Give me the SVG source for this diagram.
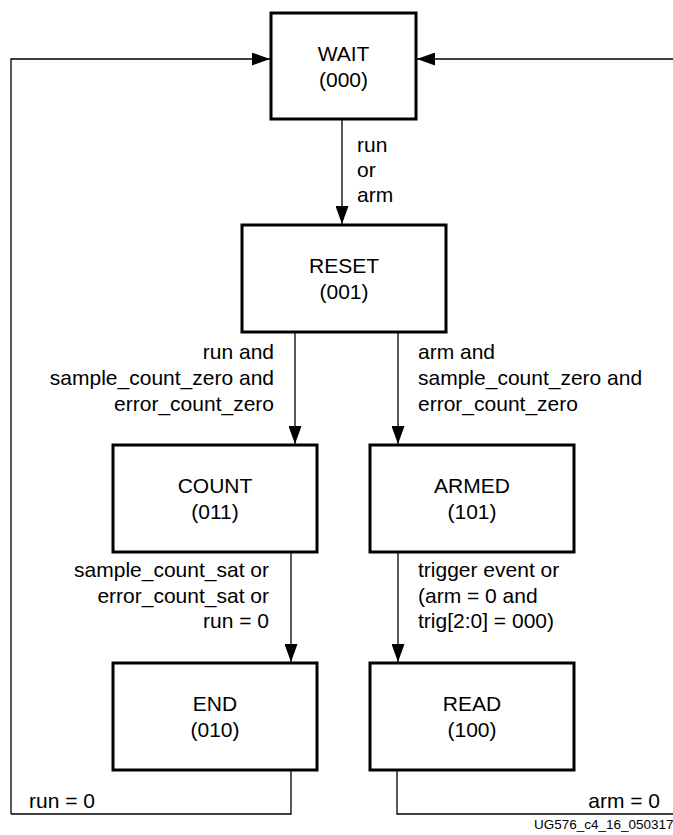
<svg xmlns="http://www.w3.org/2000/svg" width="673" height="835" viewBox="0 0 673 835">
<style>
.box{fill:#fff;stroke:#000;stroke-width:3}
.t{font-family:"Liberation Sans",Arial,sans-serif;font-size:21px;fill:#000}
.c{text-anchor:middle}
.r{text-anchor:end}
.ln{fill:none;stroke:#000;stroke-width:1.3}
.fig{font-family:"Liberation Sans",Arial,sans-serif;font-size:13.5px;fill:#000}
</style>
<defs>
<marker id="ah" markerUnits="userSpaceOnUse" markerWidth="18" markerHeight="13" refX="18" refY="6.5" orient="auto">
<path d="M0,0 L18,6.5 L0,13 Z" fill="#000"/>
</marker>
</defs>
<rect width="673" height="835" fill="#fff"/>
<g id="connectors">
<path class="ln" d="M11,814 L11,59 L270,59" marker-end="url(#ah)"/>
<path class="ln" d="M673,59 L417,59" marker-end="url(#ah)"/>
<path class="ln" d="M342,119 L342,224" marker-end="url(#ah)"/>
<path class="ln" d="M295,332 L295,444" marker-end="url(#ah)"/>
<path class="ln" d="M398,332 L398,444" marker-end="url(#ah)"/>
<path class="ln" d="M291,552 L291,662" marker-end="url(#ah)"/>
<path class="ln" d="M398,552 L398,662" marker-end="url(#ah)"/>
<path class="ln" d="M291,770 L291,814 L11,814"/>
<path class="ln" d="M397,770 L397,814 L673,814"/>
<text class="t" x="357" y="152">run</text>
<text class="t" x="357" y="177">or</text>
<text class="t" x="357" y="202">arm</text>
<text class="t r" x="274" y="359">run and</text>
<text class="t r" x="274" y="385">sample_count_zero and</text>
<text class="t r" x="274" y="411">error_count_zero</text>
<text class="t" x="418" y="359">arm and</text>
<text class="t" x="418" y="385">sample_count_zero and</text>
<text class="t" x="418" y="411">error_count_zero</text>
<text class="t r" x="269" y="577">sample_count_sat or</text>
<text class="t r" x="269" y="603">error_count_sat or</text>
<text class="t r" x="269" y="628">run = 0</text>
<text class="t" x="418" y="577">trigger event or</text>
<text class="t" x="418" y="603">(arm = 0 and</text>
<text class="t" x="418" y="628">trig[2:0] = 000)</text>
<text class="t" x="29" y="808">run = 0</text>
<text class="t r" x="660" y="808">arm = 0</text>
</g>
<g id="wait">
<rect class="box" x="271" y="13" width="145" height="106"/>
<text class="t c" x="343.5" y="61">WAIT</text>
<text class="t c" x="343.5" y="87">(000)</text>
</g>
<g id="reset">
<rect class="box" x="242" y="225" width="204" height="107"/>
<text class="t c" x="344" y="273">RESET</text>
<text class="t c" x="344" y="299">(001)</text>
</g>
<g id="count">
<rect class="box" x="113" y="445" width="204" height="107"/>
<text class="t c" x="215" y="493">COUNT</text>
<text class="t c" x="215" y="519">(011)</text>
</g>
<g id="armed">
<rect class="box" x="370" y="445" width="204" height="107"/>
<text class="t c" x="472" y="493">ARMED</text>
<text class="t c" x="472" y="519">(101)</text>
</g>
<g id="end">
<rect class="box" x="113" y="663" width="204" height="107"/>
<text class="t c" x="215" y="711">END</text>
<text class="t c" x="215" y="737">(010)</text>
</g>
<g id="read">
<rect class="box" x="370" y="663" width="204" height="107"/>
<text class="t c" x="472" y="711">READ</text>
<text class="t c" x="472" y="737">(100)</text>
</g>
<text class="fig" x="534" y="829">UG576_c4_16_050317</text>
</svg>
